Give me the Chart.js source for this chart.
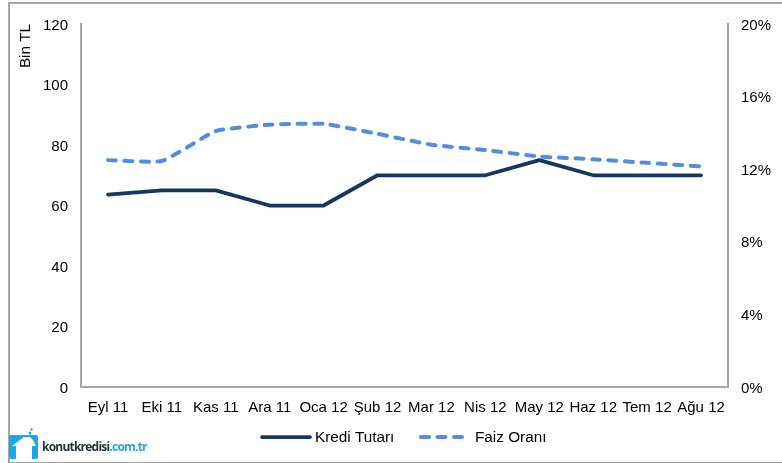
<!DOCTYPE html>
<html><head><meta charset="utf-8">
<style>
html,body{margin:0;padding:0;background:#fff;width:782px;height:463px;overflow:hidden}
#wrap{position:absolute;left:0;top:0;width:782px;height:463px}
canvas{display:block}
#frame{position:absolute;left:8px;top:2px;width:780px;height:461px;border:solid #a6a6a6;border-width:2px 0 1px 2px;box-sizing:border-box;pointer-events:none}
#logo{position:absolute;left:42px;top:439px;font:700 12px "Open Sans",sans-serif;letter-spacing:-.78px;color:#26323c;line-height:16px;white-space:nowrap}
#logo span{color:#29a3dc}
</style>
<script src="https://cdn.jsdelivr.net/npm/chart.js@4"></script>
</head><body><div id="wrap"><canvas id="c" width="782" height="463"></canvas>
<div id="frame"></div>
<svg style="position:absolute;left:8px;top:428px" width="32" height="33"><rect x="1" y="7" width="29" height="24" rx="2" fill="#1ea7e4"/><path d="M4 18 L16 9 L22 9 L25 12 L28 18 L24 18 L24 31 L8 31 L8 18 Z" fill="#fff"/><path d="M14 31 L14 25 Q16 23 18 25 L18 31 Z" fill="#1ea7e4" opacity="0"/><circle cx="22" cy="5" r="1.5" fill="#1ea7e4"/><circle cx="23.5" cy="1.5" r="1.2" fill="#1ea7e4"/></svg>
<div id="logo">konutkredisi<span>.com.tr</span></div>
</div>
<script>
const categories=["Eyl 11","Eki 11","Kas 11","Ara 11","Oca 12","Şub 12","Mar 12","Nis 12","May 12","Haz 12","Tem 12","Ağu 12"];
const krediTutari=[63.6,65,65,60,60,70,70,70,75,70,70,70];
const faizOrani=[12.5,12.45,14.1,14.45,14.5,13.95,13.35,13.05,12.7,12.55,12.35,12.15];
const leftTicks=[0,20,40,60,80,100,120];
const rightTicks=[0,4,8,12,16,20];
const font={family:'"Liberation Sans",Arial,sans-serif',size:15};
new Chart(document.getElementById('c'),{
 type:'line',
 data:{labels:categories,datasets:[
  {label:'Kredi Tutarı',data:krediTutari,yAxisID:'y',borderColor:'#17375e',backgroundColor:'#17375e',borderWidth:3.75,pointRadius:0,tension:0,borderCapStyle:'round',borderJoinStyle:'round'},
  {label:'Faiz Oranı',data:faizOrani,yAxisID:'y1',borderColor:'#558ed5',backgroundColor:'#558ed5',borderWidth:4,pointRadius:0,tension:0.14,borderDash:[8,8.5],borderCapStyle:'round',borderJoinStyle:'round'}
 ]},
 options:{
  responsive:false,animation:false,
  layout:{padding:{top:24}},
  plugins:{legend:{display:false},tooltip:{enabled:false},title:{display:false}},
  scales:{
   x:{offset:true,afterFit(a){a.height=76},grid:{display:false,drawTicks:false},border:{color:'#a6a6a6',width:2},ticks:{color:'#000',font,maxRotation:0,autoSkip:false,padding:11.5}},
   y:{position:'left',min:0,max:120,afterFit(a){a.width=81},afterBuildTicks(a){a.ticks=leftTicks.map(v=>({value:v}))},grid:{display:false,drawTicks:false},border:{color:'#a6a6a6',width:2},ticks:{color:'#000',font,padding:13}},
   y1:{position:'right',min:0,max:20,afterFit(a){a.width=54},afterBuildTicks(a){a.ticks=rightTicks.map(v=>({value:v}))},grid:{display:false,drawTicks:false},border:{color:'#a6a6a6',width:2},ticks:{color:'#000',font,padding:13,callback:v=>v+'%'}}
  }
 },
 plugins:[{
  id:'fixed',
  beforeDraw(ch){
   for(const id of ['y','y1']){
    for(const item of ch.scales[id].getLabelItems()){
     if(!item.nudged){item.textOffset+=1.5;item.nudged=true;}
    }
   }
  },
  afterDraw(ch){
   const x=ch.ctx;x.save();
   x.font='15.3px "Liberation Sans",Arial,sans-serif';x.fillStyle='#000';x.textBaseline='middle';
   x.save();x.translate(26,46);x.rotate(-Math.PI/2);x.textAlign='center';x.fillText('Bin TL',0,0);x.restore();
   const ds=ch.data.datasets;
   x.lineCap='round';
   x.lineWidth=ds[0].borderWidth;x.strokeStyle=ds[0].borderColor;x.beginPath();x.moveTo(262,437);x.lineTo(310,437);x.stroke();
   x.textAlign='left';x.fillText(ds[0].label,315,438);
   x.lineWidth=ds[1].borderWidth;x.strokeStyle=ds[1].borderColor;x.setLineDash(ds[1].borderDash);x.beginPath();x.moveTo(421,437);x.lineTo(464,437);x.stroke();x.setLineDash([]);
   x.fillText(ds[1].label,475,438);
   x.restore();
  }
 }]
});
</script></body></html>
